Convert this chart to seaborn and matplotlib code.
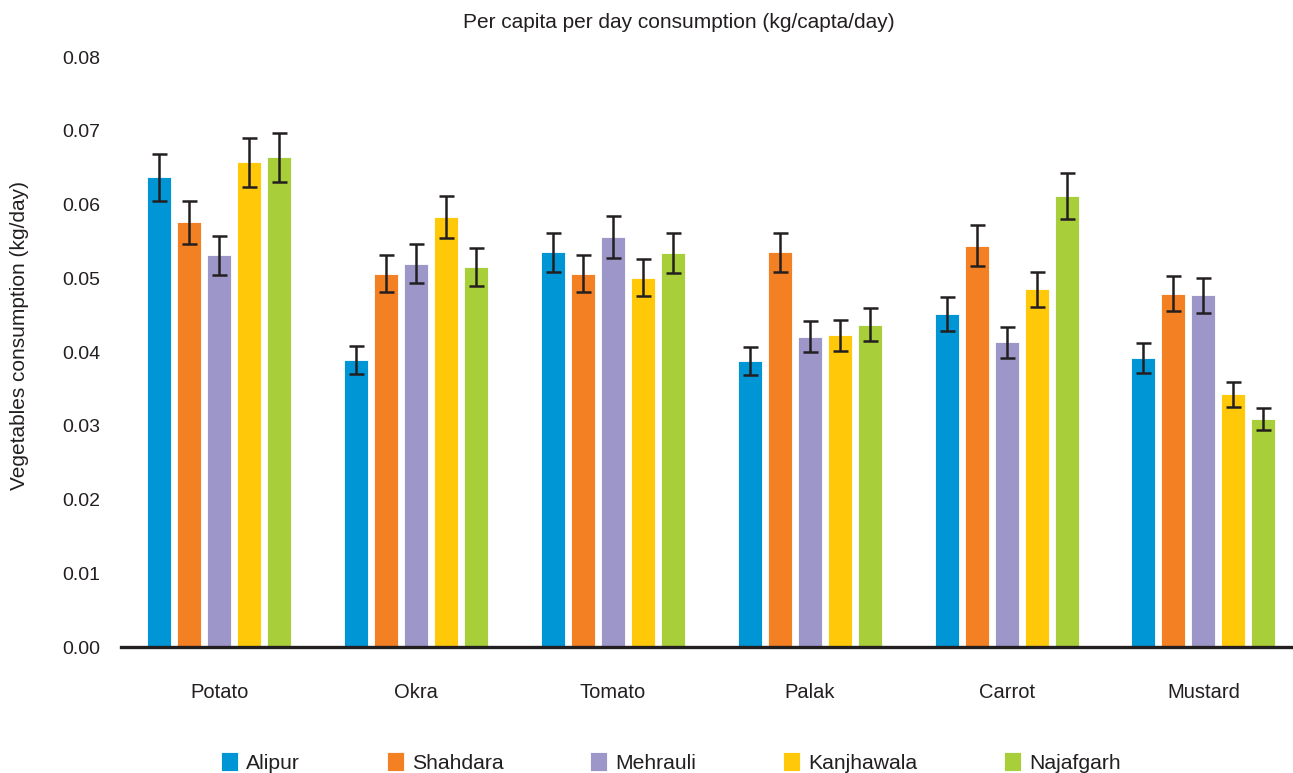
import numpy as np
import pandas as pd
import matplotlib
matplotlib.use('Agg')
import matplotlib.pyplot as plt
import seaborn as sns

vegetables = ['Potato', 'Okra', 'Tomato', 'Palak', 'Carrot', 'Mustard']
sites = ['Alipur', 'Shahdara', 'Mehrauli', 'Kanjhawala', 'Najafgarh']

# mean consumption (kg/day) per site
alipur = [0.0637, 0.0389, 0.0535, 0.0388, 0.0451, 0.0392]
shahdara = [0.0576, 0.0506, 0.0506, 0.0535, 0.0544, 0.0479]
mehrauli = [0.0531, 0.0520, 0.0556, 0.0421, 0.0413, 0.0477]
kanjhawala = [0.0657, 0.0583, 0.0501, 0.0423, 0.0485, 0.0343]
najafgarh = [0.0664, 0.0515, 0.0534, 0.0437, 0.0612, 0.0309]

# error bar half widths
alipur_err = [0.0032, 0.0019, 0.0026, 0.0019, 0.0023, 0.0020]
shahdara_err = [0.0029, 0.0025, 0.0025, 0.0027, 0.0028, 0.0024]
mehrauli_err = [0.0026, 0.0026, 0.0028, 0.0021, 0.0021, 0.0024]
kanjhawala_err = [0.0033, 0.0029, 0.0025, 0.0021, 0.0024, 0.0017]
najafgarh_err = [0.0033, 0.0026, 0.0027, 0.0022, 0.0031, 0.0015]

colors = ['#0096D6', '#F48024', '#9D96C8', '#FFC90A', '#A8CE3A']

values = [alipur, shahdara, mehrauli, kanjhawala, najafgarh]
errors = [alipur_err, shahdara_err, mehrauli_err, kanjhawala_err, najafgarh_err]

rows = []
for s, vals in zip(sites, values):
    for v, val in zip(vegetables, vals):
        rows.append({'vegetable': v, 'site': s, 'value': val})
df = pd.DataFrame(rows)

sns.set_style('white')
plt.rcParams['font.family'] = ['Liberation Sans', 'DejaVu Sans']

fig = plt.figure(figsize=(12.93, 7.73), dpi=100)
ax = fig.add_axes([121 / 1293, 1 - 647 / 773, 1 - 121 / 1293, (647 - 57) / 773])

sns.barplot(data=df, x='vegetable', y='value', hue='site', order=vegetables,
            hue_order=sites, palette=colors, saturation=1, errorbar=None,
            width=0.762, gap=0.2, legend=False, ax=ax,
            edgecolor='white', linewidth=0.6)

bar_groups = list(ax.containers)
for cont, errs in zip(bar_groups, errors):
    xs = [p.get_x() + p.get_width() / 2 for p in cont.patches]
    hs = [p.get_height() for p in cont.patches]
    ax.errorbar(xs, hs, yerr=errs, fmt='none', ecolor='#231F20',
                elinewidth=1.8, capsize=5.4, capthick=1.8, zorder=5)

ax.set_ylim(0, 0.08)
ax.set_xlim(-0.5, 5.455)
ax.set_yticks(np.arange(0, 0.081, 0.01))
ax.set_yticklabels([f'{t:.2f}' for t in np.arange(0, 0.081, 0.01)])
ax.tick_params(axis='y', length=0, pad=15, labelsize=14, labelcolor='#231F20')
ax.tick_params(axis='x', length=0, pad=26, labelsize=14.5, labelcolor='#231F20')
ax.set_xlabel('')
ax.set_ylabel('')

for side in ['top', 'right', 'left']:
    ax.spines[side].set_visible(False)
ax.spines['bottom'].set_color('#231F20')
ax.spines['bottom'].set_linewidth(2.4)

fig.text(0.525, 1 - 22 / 773, 'Per capita per day consumption (kg/capta/day)',
         ha='center', va='center', fontsize=15, color='#231F20')
fig.text(0.015, 1 - 335 / 773, 'Vegetables consumption (kg/day)', rotation=90,
         ha='center', va='center', fontsize=15, color='#231F20')

fig.legend(bar_groups, sites, loc='center', bbox_to_anchor=(0.519, 0.014),
           ncol=5, frameon=False, fontsize=15.2, columnspacing=4.1,
           handlelength=0.8, handleheight=1.0, handletextpad=0.4,
           borderaxespad=0, labelcolor='#231F20')

fig.savefig('out.png', dpi=100)
